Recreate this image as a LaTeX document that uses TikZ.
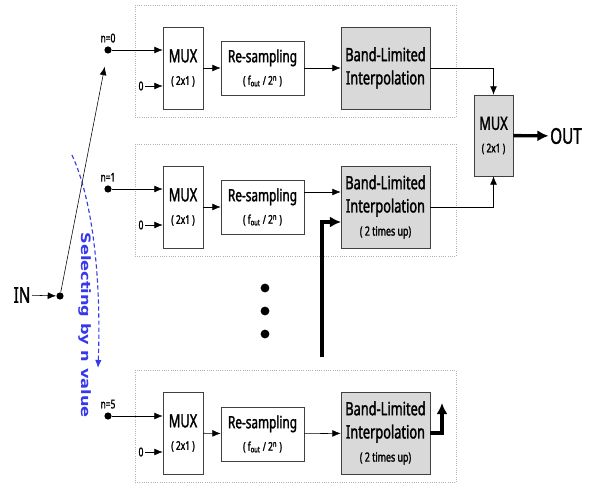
\documentclass[tikz,border=0pt]{standalone}
\usepackage{fontspec}
\setmainfont[FakeStretch=0.7, FakeBold=1.6]{Noto Sans}
\newfontfamily\selfont{DejaVu Sans}
\usepackage{xcolor}
\usetikzlibrary{arrows.meta, positioning, calc, graphs}
\definecolor{selblue}{RGB}{55,55,235}
\tikzset{
>={Latex[length=2.1mm,width=1.7mm]},
black!85,
text=black,
line width=0.9pt,
hor/.style={to path={-- (\tikztotarget.west |- \tikztostart)}},
hvpath/.style={to path={-| (\tikztotarget)}},
vhpath/.style={to path={|- (\tikztotarget)}},
thk/.style={line width=2.4pt, -{Latex[length=2.8mm,width=2.8mm]}},
grp/.style={%
    rectangle,
    draw=black!30,
    densely dotted,
    line width=0.6pt,
    minimum width=8.025cm,
    minimum height=2.8cm
},
muxbox/.style={%
    rectangle,
    draw=black!75,
    fill=white,
    minimum width=1cm,
    minimum height=2.05cm,
    align=center,
    inner sep=0pt,
    font=\fontsize{13}{16}\selectfont
},
rsbox/.style={%
    muxbox,
    minimum width=2.075cm,
    minimum height=1.35cm,
    font=\fontsize{12}{16}\selectfont
},
blbox/.style={%
    muxbox,
    fill=black!15,
    minimum width=2.225cm,
    font=\fontsize{13}{16.5}\selectfont
},
dot/.style={circle, fill=black, inner sep=0pt, minimum size=0.18cm},
bigdot/.style={dot, minimum size=0.22cm},
lbl/.style={inner sep=1pt, font=\fontsize{8.5}{10}\selectfont},
}

\newcommand{\muxtext}{MUX\\{\fontsize{8.5}{16}\selectfont ( 2x1 )}}
\newcommand{\rstext}{Re-sampling\\{\fontsize{8.5}{16}\selectfont ( f\textsubscript{out} / 2\textsuperscript{n} )}}

\begin{document}
\begin{tikzpicture}[x=0.025cm, y=-0.025cm]
	\useasboundingbox (0,0) rectangle (590,484);

	% stage frames
	\node[grp] (g1) at (295.5,61) {};
	\node[grp] (g2) at (295.5,200) {};
	\node[grp] (g3) at (295.5,426.5) {};

	% n = 0
	\node[dot] at (108,50) (n0) {};
	\node[lbl, above=0.05cm of n0] (ln0) {n=0};
	\node[lbl] at (141,86) (zero1) {0};
	\node[muxbox] at (183,68) (mux1) {\muxtext};
	\node[rsbox] at (262.5,68) (rs1) {\rstext};
	\node[blbox] at (385.5,68) (bl1) {Band-Limited\\Interpolation};

	% n = 1
	\node[dot] at (108,189) (n1) {};
	\node[lbl, above=0.05cm of n1] (ln1) {n=1};
	\node[lbl] at (141,225) (zero2) {0};
	\node[muxbox] at (183,207) (mux2) {\muxtext};
	\node[rsbox] at (262.5,207) (rs2) {\rstext};
	\node[blbox] at (385.5,207) (bl2) {Band-Limited\\Interpolation\\{\fontsize{9}{16.5}\selectfont ( 2 times up)}};
	\coordinate (rs2o) at (304,192);
	\coordinate (bl2in) at (341,222);
	\coordinate (up0) at (322,357);

	% n = 5
	\node[dot] at (108,416) (n5) {};
	\node[lbl, above=0.05cm of n5] (ln5) {n=5};
	\node[lbl] at (141,452) (zero3) {0};
	\node[muxbox] at (183,433) (mux3) {\muxtext};
	\node[rsbox] at (262.5,434) (rs3) {\rstext};
	\node[blbox] at (385.5,433) (bl3) {Band-Limited\\Interpolation\\{\fontsize{9}{16.5}\selectfont ( 2 times up)}};
	\coordinate (bl3up) at (442,403);

	% vertical ellipsis
	\node[bigdot] at (265,288) (vd1) {};
	\node[bigdot] at (265,311) (vd2) {};
	\node[bigdot] at (265,334) (vd3) {};

	% input side
	\node[inner sep=1pt, font=\fontsize{15.5}{18}\selectfont] at (22,295) (inp) {IN};
	\node[dot] at (60,296) (inj) {};

	% output side
	\node[muxbox, fill=black!15, minimum width=0.975cm, minimum height=2.025cm] at (493.5,135.5) (muxo) {\muxtext};
	\node[inner sep=1pt, font=\fontsize{15.5}{18}\selectfont] at (566,136) (outp) {OUT};

	% selector
	\coordinate (sel1) at (72,155);
	\coordinate (sel2) at (98,368);
	\draw[selblue, densely dashed, line width=0.8pt, -{Latex[length=2mm,width=1.6mm]}]
		(sel1) .. controls (95,205) and (101,290) .. (sel2);
	\node[rotate=-90, yscale=0.8, text=selblue, font=\selfont\bfseries\fontsize{11.5}{14}\selectfont] at (85,325) (seltxt) {Selecting by n value};

	\graph [use existing nodes] {
	inp -> inj;
	inj ->[shorten >=0.33cm] n0;
	n0 ->[hor] mux1; zero1 ->[hor] mux1;
	mux1 -> rs1 -> bl1;
	n1 ->[hor] mux2; zero2 ->[hor] mux2;
	mux2 -> rs2; rs2o ->[hor] bl2;
	n5 ->[hor] mux3; zero3 ->[hor] mux3;
	mux3 -> rs3 -> bl3;
	bl1 ->[hvpath] muxo;
	bl2 ->[hvpath] muxo;
	muxo ->[thk] outp;
	up0 ->[thk, vhpath] bl2in;
	bl3 ->[thk, hvpath] bl3up;
	};

\end{tikzpicture}
\end{document}
